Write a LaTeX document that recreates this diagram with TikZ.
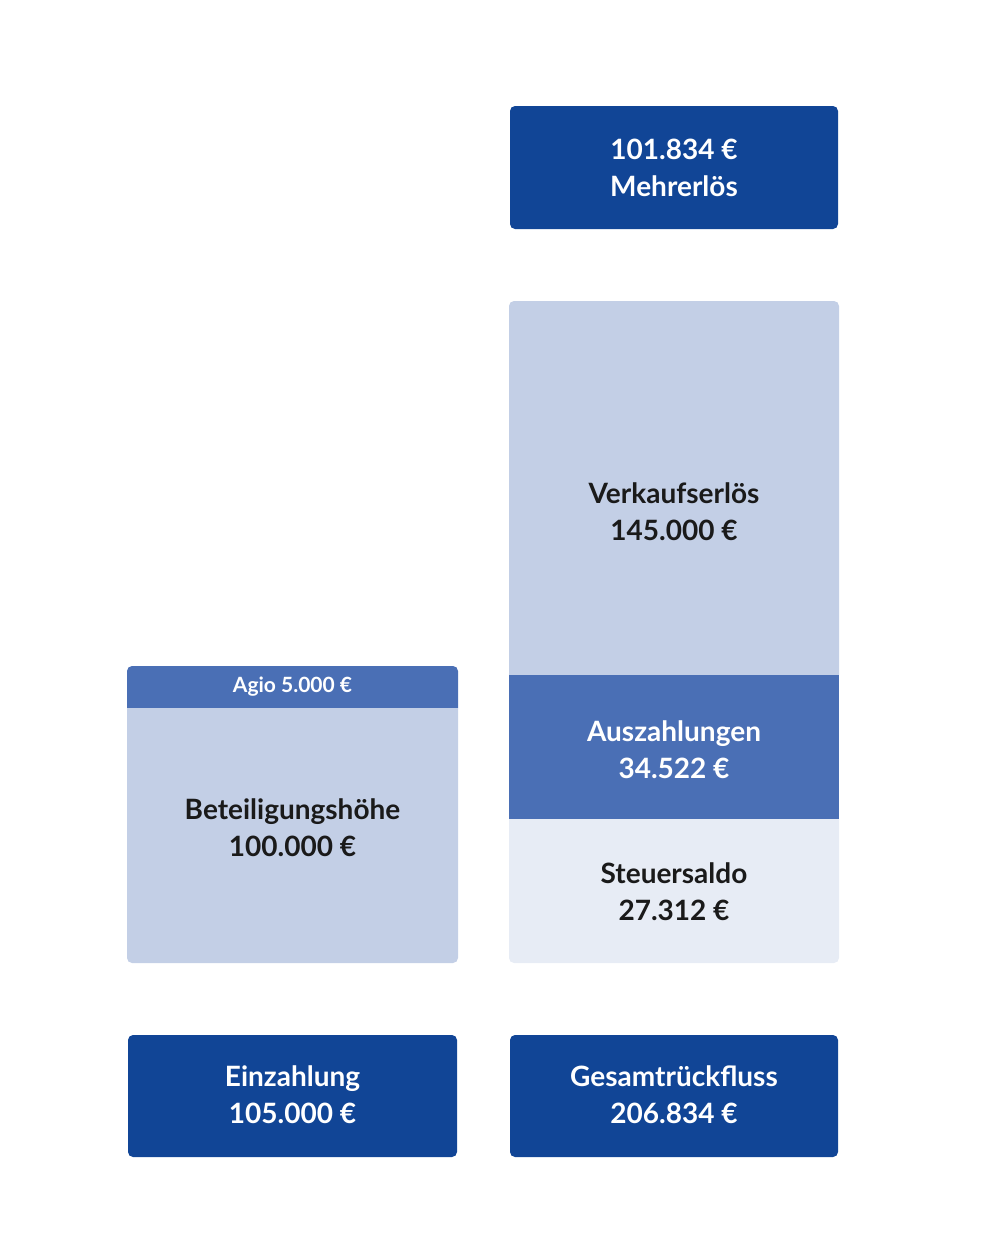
\documentclass[tikz,border=0pt]{standalone}
\usepackage{fontspec}
\setmainfont{Lato}
\definecolor{dark}{HTML}{114596}
\definecolor{mid}{HTML}{4A6FB5}
\definecolor{light}{HTML}{C3CFE6}
\definecolor{pale}{HTML}{E7ECF5}
\definecolor{ink}{HTML}{1A1A1A}
\tikzset{lbl/.style={align=center,font=\fontsize{28}{37}\selectfont\bfseries},
 wl/.style={lbl,text=white}, bl/.style={lbl,text=ink}}
\begin{document}
\begin{tikzpicture}[x=1pt,y=-1pt]
\useasboundingbox (0,0) rectangle (1000,1255);
% top box
\fill[dark,rounded corners=5] (510,106) rectangle (838,229);
\node[wl] (mehr) at (674,168) {101.834 €\\Mehrerlös};
% right stack
\fill[light] (509,675) [rounded corners=5] -- (509,301) -- (839,301) [sharp corners] -- (839,675) -- cycle;
\fill[mid] (509,675) rectangle (839,819);
\fill[pale] (509,819) [rounded corners=5] -- (509,963) -- (839,963) [sharp corners] -- (839,819) -- cycle;
\node[bl] (verk) at (674,512) {Verkaufserlös\\145.000 €};
\node[wl] (ausz) at (674,750) {Auszahlungen\\34.522 €};
\node[bl] (steu) at (674,892) {Steuersaldo\\27.312 €};
% left stack
\fill[mid] (127,708) [rounded corners=5] -- (127,666) -- (458,666) [sharp corners] -- (458,708) -- cycle;
\fill[light] (127,708) [rounded corners=5] -- (127,963) -- (458,963) [sharp corners] -- (458,708) -- cycle;
\node[text=white,font=\fontsize{21}{25}\selectfont\bfseries] (agio) at (292.5,687) {Agio 5.000 €};
\node[bl] (bet) at (292.5,828) {Beteiligungshöhe\\100.000 €};
% bottom boxes
\fill[dark,rounded corners=5] (128,1035) rectangle (457,1157);
\fill[dark,rounded corners=5] (510,1035) rectangle (838,1157);
\node[wl] (ein) at (292.5,1095) {Einzahlung\\105.000 €};
\node[wl] (ges) at (674,1095) {Gesamtrückfluss\\206.834 €};
\end{tikzpicture}
\end{document}
